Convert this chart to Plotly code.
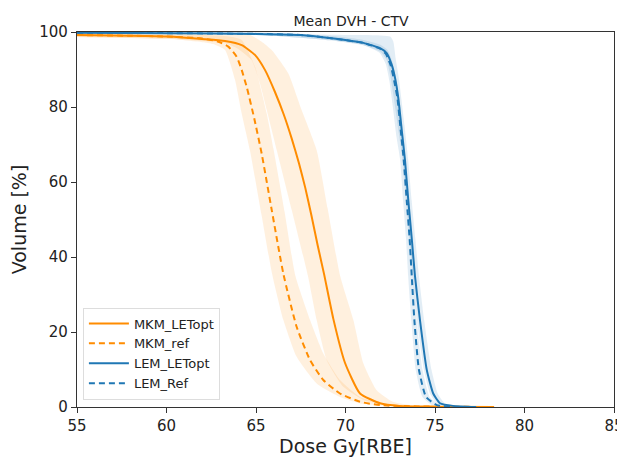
import plotly.graph_objects as go

# ---- Mean curves (dose Gy[RBE], volume %) ----
mkm_opt_dose = [55, 58, 60, 62.15, 63.27, 64.2, 64.94, 65.5, 66.06, 66.55, 67.0, 67.4, 67.75, 68.1, 68.45, 68.8, 69.32, 69.97, 70.81, 71.93, 73.0, 75.0, 78.3]
mkm_opt_vol = [99.2, 99.0, 98.8, 98.1, 97.6, 96.5, 93.9, 89.9, 84.0, 78.0, 71.5, 65.0, 58.5, 51.0, 43.0, 35.5, 23.5, 11.8, 3.6, 1.0, 0.3, 0.1, 0.0]

mkm_ref_dose = [55, 58, 60, 62, 62.9, 63.45, 63.92, 64.2, 64.5, 64.9, 65.32, 65.88, 66.53, 67.27, 68.02, 68.76, 69.69, 70.81, 71.93, 74.0, 78.3]
mkm_ref_vol = [99.2, 99.0, 98.8, 98.3, 97.4, 96.1, 93.4, 89.9, 85.0, 77.0, 67.5, 52.5, 35.5, 21.4, 12.5, 7.2, 3.6, 1.4, 0.5, 0.15, 0.0]

lem_opt_dose = [55, 60, 65, 67.5, 69.1, 71.0, 71.93, 72.3, 72.58, 72.77, 72.95, 73.14, 73.32, 73.51, 73.7, 73.88, 74.16, 74.54, 74.9, 75.28, 76.0, 77.3]
lem_opt_vol = [99.8, 99.7, 99.5, 99.2, 98.4, 97.1, 95.7, 94.4, 91.3, 87.7, 82.4, 73.9, 66.0, 55.0, 45.0, 35.0, 23.2, 9.9, 3.6, 1.0, 0.3, 0.0]

lem_ref_dose = [55, 60, 65, 67.5, 69.1, 71.0, 71.9, 72.25, 72.53, 72.72, 72.9, 73.08, 73.25, 73.42, 73.58, 73.7, 73.85, 74.1, 74.5, 75.1, 76.0]
lem_ref_vol = [99.8, 99.7, 99.5, 99.2, 98.4, 97.1, 95.6, 94.2, 91.0, 87.0, 82.4, 74.0, 66.0, 55.0, 45.0, 35.0, 23.0, 10.0, 2.7, 0.5, 0.0]

# ---- Band edges ----
mkm_opt_hi_dose = [55, 62, 64.57, 65.3, 65.88, 66.8, 67.55, 68.39, 69.0, 69.7, 70.44, 71.0, 71.74, 72.65, 74.0, 78.3]
mkm_opt_hi_vol = [99.8, 99.6, 99.4, 97.5, 95.2, 89.0, 79.2, 68.5, 53.0, 35.0, 23.2, 11.6, 4.5, 1.4, 0.3, 0.0]
mkm_opt_lo_dose = [55, 60, 62, 63.3, 64.0, 64.76, 65.22, 65.6, 66.16, 67.0, 67.9, 68.39, 68.95, 69.88, 71.0, 72.5, 74.0, 78.0]
mkm_opt_lo_vol = [98.7, 98.2, 97.6, 97.0, 95.5, 92.5, 86.3, 79.2, 68.5, 52.5, 35.0, 23.2, 12.5, 5.4, 1.9, 0.5, 0.1, 0.0]

mkm_ref_hi_dose = [55, 62, 63.5, 64.2, 64.94, 65.6, 65.97, 66.6, 67.2, 68.02, 68.76, 69.69, 70.81, 72.5, 75.0, 78.3]
mkm_ref_hi_vol = [99.6, 99.2, 98.8, 97.9, 90.8, 78.3, 69.0, 52.0, 35.0, 23.2, 14.3, 7.2, 2.7, 0.6, 0.1, 0.0]
mkm_ref_lo_dose = [55, 60, 62, 62.6, 63.27, 63.83, 64.2, 64.66, 65.3, 65.9, 66.53, 67.27, 68.39, 69.69, 71.0, 73.0, 78.0]
mkm_ref_lo_vol = [98.7, 98.2, 97.3, 96.8, 95.2, 87.2, 78.3, 68.5, 51.5, 35.5, 23.2, 13.4, 6.3, 2.7, 0.8, 0.2, 0.0]

lem_opt_hi_dose = [55, 65, 69.13, 72.49, 72.67, 72.8, 72.97, 73.3, 73.5, 73.7, 73.9, 74.1, 74.4, 74.8, 75.15, 75.55, 76.4, 77.3]
lem_opt_hi_vol = [100.0, 99.9, 99.3, 98.8, 97.5, 93.0, 88.0, 75.0, 66.0, 55.0, 45.0, 35.0, 23.0, 10.0, 3.6, 1.0, 0.3, 0.0]
lem_opt_lo_dose = [55, 65, 69.13, 71.0, 71.93, 72.3, 72.5, 72.7, 72.98, 73.18, 73.38, 73.56, 73.75, 74.0, 74.38, 74.72, 75.1, 75.8, 77.0]
lem_opt_lo_vol = [99.6, 99.3, 97.8, 96.5, 94.8, 92.5, 88.5, 82.4, 73.0, 66.0, 55.0, 45.0, 35.0, 23.0, 10.0, 3.6, 1.0, 0.3, 0.0]

lem_ref_hi_dose = [55, 65, 69.13, 71.0, 71.95, 72.35, 72.6, 72.8, 72.98, 73.16, 73.33, 73.5, 73.66, 73.8, 73.98, 74.3, 74.7, 75.3, 76.5]
lem_ref_hi_vol = [100.0, 99.9, 99.0, 97.9, 96.6, 95.2, 92.3, 88.0, 83.0, 75.0, 66.0, 55.0, 45.0, 35.0, 23.0, 10.0, 2.7, 0.5, 0.0]
lem_ref_lo_dose = [55, 65, 69.13, 71.0, 71.9, 72.25, 72.45, 72.62, 72.85, 73.05, 73.22, 73.38, 73.5, 73.68, 73.92, 74.3, 74.85, 76.0]
lem_ref_lo_vol = [99.6, 99.3, 97.8, 96.5, 94.5, 91.5, 87.0, 81.0, 72.0, 66.0, 55.0, 45.0, 35.0, 23.0, 10.0, 2.7, 0.5, 0.0]

x_ticks = [55, 60, 65, 70, 75, 80, 85]
y_ticks = [0, 20, 40, 60, 80, 100]

ORANGE = "#ff8c00"
BLUE = "#1f77b4"
ORANGE_FILL = "rgba(255,140,0,0.13)"
BLUE_FILL = "rgba(31,119,180,0.13)"
SMOOTH = 0.5

fig = go.Figure()


def band(hx, hy, lx, ly, color):
    fig.add_trace(go.Scatter(
        x=list(hx) + list(reversed(lx)),
        y=list(hy) + list(reversed(ly)),
        fill="toself", fillcolor=color, mode="lines",
        line=dict(width=0, shape="spline", smoothing=SMOOTH),
        hoverinfo="skip", showlegend=False))


band(mkm_opt_hi_dose, mkm_opt_hi_vol, mkm_opt_lo_dose, mkm_opt_lo_vol, ORANGE_FILL)
band(mkm_ref_hi_dose, mkm_ref_hi_vol, mkm_ref_lo_dose, mkm_ref_lo_vol, ORANGE_FILL)
band(lem_opt_hi_dose, lem_opt_hi_vol, lem_opt_lo_dose, lem_opt_lo_vol, BLUE_FILL)
band(lem_ref_hi_dose, lem_ref_hi_vol, lem_ref_lo_dose, lem_ref_lo_vol, BLUE_FILL)

fig.add_trace(go.Scatter(x=mkm_opt_dose, y=mkm_opt_vol, mode="lines", name="MKM_LETopt",
                         line=dict(color=ORANGE, width=2, shape="spline", smoothing=SMOOTH)))
fig.add_trace(go.Scatter(x=mkm_ref_dose, y=mkm_ref_vol, mode="lines", name="MKM_ref",
                         line=dict(color=ORANGE, width=2, dash="6px,4px", shape="spline", smoothing=SMOOTH)))
fig.add_trace(go.Scatter(x=lem_opt_dose, y=lem_opt_vol, mode="lines", name="LEM_LETopt",
                         line=dict(color=BLUE, width=2, shape="spline", smoothing=SMOOTH)))
fig.add_trace(go.Scatter(x=lem_ref_dose, y=lem_ref_vol, mode="lines", name="LEM_Ref",
                         line=dict(color=BLUE, width=2, dash="6px,4px", shape="spline", smoothing=SMOOTH)))

axis_common = dict(showgrid=False, zeroline=False, showline=True, linecolor="#333",
                   linewidth=1.3, mirror=True, ticks="outside", ticklen=5, tickwidth=1.2,
                   tickcolor="#333", tickfont=dict(size=15, color="#222"), automargin=False)

# the page body adds an 8px offset, so the figure is drawn 8px smaller on each axis
fig.update_layout(
    width=617, height=452,
    margin=dict(l=69, r=11, t=24, b=53, autoexpand=False),
    paper_bgcolor="white", plot_bgcolor="white",
    font=dict(family="DejaVu Sans", color="#222"),
    title=dict(text="Mean DVH - CTV", x=0.556, xanchor="center", y=0.97, yanchor="middle",
               font=dict(size=14)),
    xaxis=dict(range=[55, 85], tickvals=x_ticks,
               title=dict(text="Dose Gy[RBE]", font=dict(size=19), standoff=4), **axis_common),
    yaxis=dict(range=[0, 100], tickvals=y_ticks,
               title=dict(text="Volume [%]", font=dict(size=19), standoff=8), **axis_common),
    legend=dict(x=0.011, y=0.02, xanchor="left", yanchor="bottom",
                bgcolor="rgba(255,255,255,0.85)", bordercolor="#ddd", borderwidth=1,
                font=dict(size=13), tracegroupgap=0, itemwidth=40),
    showlegend=True,
)

fig.write_html("out.html")
